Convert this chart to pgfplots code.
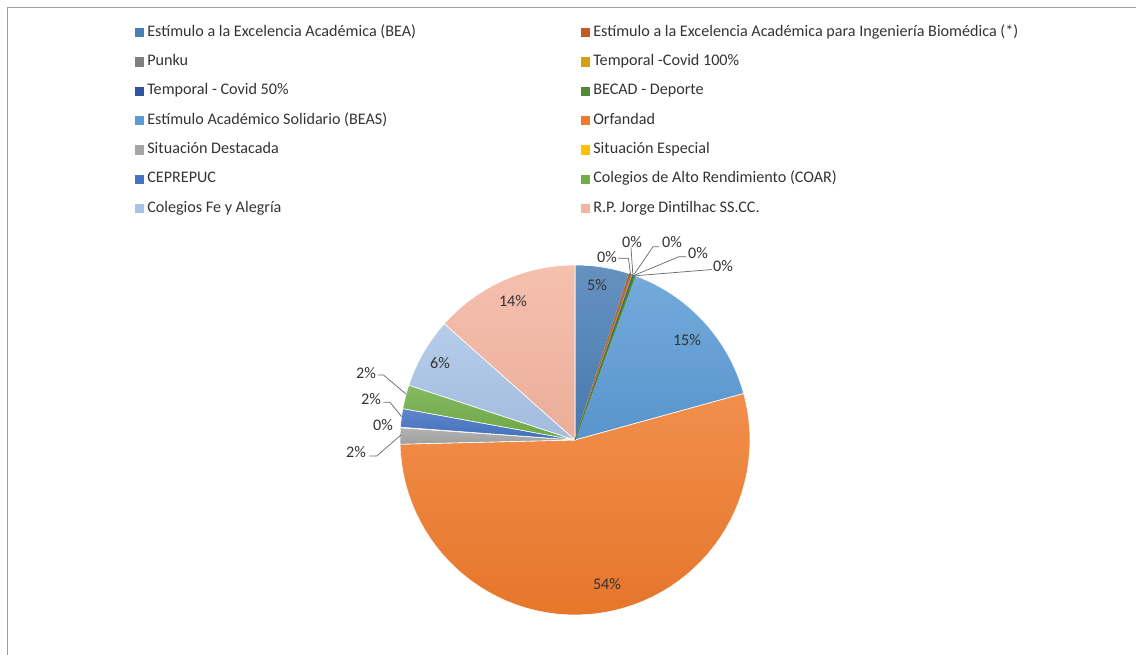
\documentclass[border=0pt]{standalone}
\usepackage{pgfplots}
\pgfplotsset{compat=1.18}
\usepackage{pgfplotstable}
\usepackage{fontspec}
\setmainfont{Carlito}
\definecolor{txt}{HTML}{333333}
\definecolor{cA}{HTML}{4A7EB5}
\definecolor{cB}{HTML}{C55A1E}
\definecolor{cC}{HTML}{7F7F7F}
\definecolor{cD}{HTML}{D4A010}
\definecolor{cE}{HTML}{2F55A0}
\definecolor{cF}{HTML}{4E8A38}
\definecolor{cG}{HTML}{5B9BD5}
\definecolor{cH}{HTML}{EF7B2C}
\definecolor{cI}{HTML}{A5A5A5}
\definecolor{cJ}{HTML}{FFC000}
\definecolor{cK}{HTML}{4472C4}
\definecolor{cL}{HTML}{70AD47}
\definecolor{cM}{HTML}{A9C3E6}
\definecolor{cN}{HTML}{F4B5A0}
\pgfplotstableread{
v c w
5.0 cA 1
0.15 cB 0
0.12 cC 0
0.10 cD 0
0.10 cE 0
0.15 cF 0
15.1 cG 1
53.9 cH 1
1.5 cI 1
0.05 cJ 1
1.7 cK 1
2.2 cL 1
6.5 cM 1
13.43 cN 1
}\piedata
\begin{document}
\begin{tikzpicture}
\begin{axis}[
  width=1136bp, height=655bp, scale only axis,
  xmin=0, xmax=1136, ymin=0, ymax=655, y dir=reverse,
  hide axis, clip=false,
  legend image code/.code={\path[#1] (0bp,-4.65bp) rectangle (9.3bp,4.65bp);},
  legend columns=2,
  legend cell align=left,
  legend style={at={(axis cs:135,25.2)}, anchor=north west, draw=none, fill=none,
    inner sep=0pt, outer sep=0pt, text=txt,
    font=\fontsize{16.2}{19}\selectfont,
    row sep=14.3bp, column sep=0pt,
    nodes={inner sep=0pt, outer sep=0pt, text height=11bp, text depth=4bp},
    /tikz/every odd column/.append style={column sep=3bp}},
]
% pass 1: visible slices with white borders
\def\cum{0}
\pgfplotsforeachungrouped \i in {0,...,13} {
  \pgfplotstablegetelem{\i}{v}\of\piedata \let\val\pgfplotsretval
  \pgfplotstablegetelem{\i}{c}\of\piedata \let\col\pgfplotsretval
  \pgfplotstablegetelem{\i}{w}\of\piedata \let\lw\pgfplotsretval
  \pgfmathsetmacro\a{\cum*3.6}
  \pgfmathsetmacro\b{(\cum+\val)*3.6}
  \ifnum\lw=1
  \edef\temp{\noexpand\addplot[draw=white, line width=0.6bp, top color=\col!85!white, bottom color=\col!96!black, domain=\a:\b, samples=60, forget plot] ({575+175*sin(x)},{440-175*cos(x)}) -- (axis cs:575,440) -- cycle;}
  \temp
  \fi
  \pgfmathsetmacro\cum{\cum+\val}
}
% pass 2: very thin slices outlined in their own colour
\def\cum{0}
\pgfplotsforeachungrouped \i in {0,...,13} {
  \pgfplotstablegetelem{\i}{v}\of\piedata \let\val\pgfplotsretval
  \pgfplotstablegetelem{\i}{c}\of\piedata \let\col\pgfplotsretval
  \pgfplotstablegetelem{\i}{w}\of\piedata \let\lw\pgfplotsretval
  \pgfmathsetmacro\a{\cum*3.6}
  \pgfmathsetmacro\b{(\cum+\val)*3.6}
  \ifnum\lw=0
  \edef\temp{\noexpand\addplot[draw=\col, line width=0.5bp, fill=\col, domain=\a:\b, samples=10, forget plot] ({575+175*sin(x)},{440-175*cos(x)}) -- (axis cs:575,440) -- cycle;}
  \temp
  \fi
  \pgfmathsetmacro\cum{\cum+\val}
}
\addlegendimage{fill=cA, draw=none}\addlegendentry{\makebox[433.7bp][l]{Estímulo a la Excelencia Académica (BEA)}}
\addlegendimage{fill=cB, draw=none}\addlegendentry{Estímulo a la Excelencia Académica para Ingeniería Biomédica (*)}
\addlegendimage{fill=cC, draw=none}\addlegendentry{\makebox[433.7bp][l]{Punku}}
\addlegendimage{fill=cD, draw=none}\addlegendentry{Temporal -Covid 100\%}
\addlegendimage{fill=cE, draw=none}\addlegendentry{\makebox[433.7bp][l]{Temporal - Covid 50\%}}
\addlegendimage{fill=cF, draw=none}\addlegendentry{BECAD - Deporte}
\addlegendimage{fill=cG, draw=none}\addlegendentry{\makebox[433.7bp][l]{Estímulo Académico Solidario (BEAS)}}
\addlegendimage{fill=cH, draw=none}\addlegendentry{Orfandad}
\addlegendimage{fill=cI, draw=none}\addlegendentry{\makebox[433.7bp][l]{Situación Destacada}}
\addlegendimage{fill=cJ, draw=none}\addlegendentry{Situación Especial}
\addlegendimage{fill=cK, draw=none}\addlegendentry{\makebox[433.7bp][l]{CEPREPUC}}
\addlegendimage{fill=cL, draw=none}\addlegendentry{Colegios de Alto Rendimiento (COAR)}
\addlegendimage{fill=cM, draw=none}\addlegendentry{\makebox[433.7bp][l]{Colegios Fe y Alegría}}
\addlegendimage{fill=cN, draw=none}\addlegendentry{R.P. Jorge Dintilhac SS.CC.}
% leader lines
\draw[black!60, line width=0.7bp] (axis cs:618,258.3) -- (axis cs:628.5,258.3) -- (axis cs:630.5,274.5);
\draw[black!60, line width=0.7bp] (axis cs:631,247.5) -- (axis cs:632.8,274.5);
\draw[black!60, line width=0.7bp] (axis cs:659,246.7) -- (axis cs:653,246.7) -- (axis cs:634,274.5);
\draw[black!60, line width=0.7bp] (axis cs:686,256.7) -- (axis cs:679,256.7) -- (axis cs:635,275);
\draw[black!60, line width=0.7bp] (axis cs:711.7,269.5) -- (axis cs:706,270) -- (axis cs:636,275.7);
\draw[black!60, line width=0.7bp] (axis cs:378,375) -- (axis cs:383.5,375) -- (axis cs:406,394);
\draw[black!60, line width=0.7bp] (axis cs:383.3,402.3) -- (axis cs:390,402.3) -- (axis cs:401.7,416.7);
\draw[black!60, line width=0.7bp] (axis cs:369.3,456) -- (axis cs:376.7,456) -- (axis cs:401,435);
% labels
\begin{scope}[every node/.style={text=txt, font=\fontsize{16.2}{19}\selectfont, inner sep=0pt}]
\node at (axis cs:597,285) {5\%};
\node at (axis cs:687,340) {15\%};
\node at (axis cs:607,584) {54\%};
\node at (axis cs:513,301) {14\%};
\node at (axis cs:440,363) {6\%};
\node at (axis cs:607,257) {0\%};
\node at (axis cs:632,242) {0\%};
\node at (axis cs:672,242) {0\%};
\node at (axis cs:698,253) {0\%};
\node at (axis cs:723,266) {0\%};
\node at (axis cs:356,452) {2\%};
\node at (axis cs:383,425) {0\%};
\node at (axis cs:371,399) {2\%};
\node at (axis cs:366,373) {2\%};
\end{scope}
\draw[black!38, line width=1bp] (axis cs:7.5,655) -- (axis cs:7.5,7.5) -- (axis cs:1136,7.5);
\end{axis}
\pgfresetboundingbox
\path (current axis.south west) rectangle (current axis.north east);
\end{tikzpicture}
\end{document}
